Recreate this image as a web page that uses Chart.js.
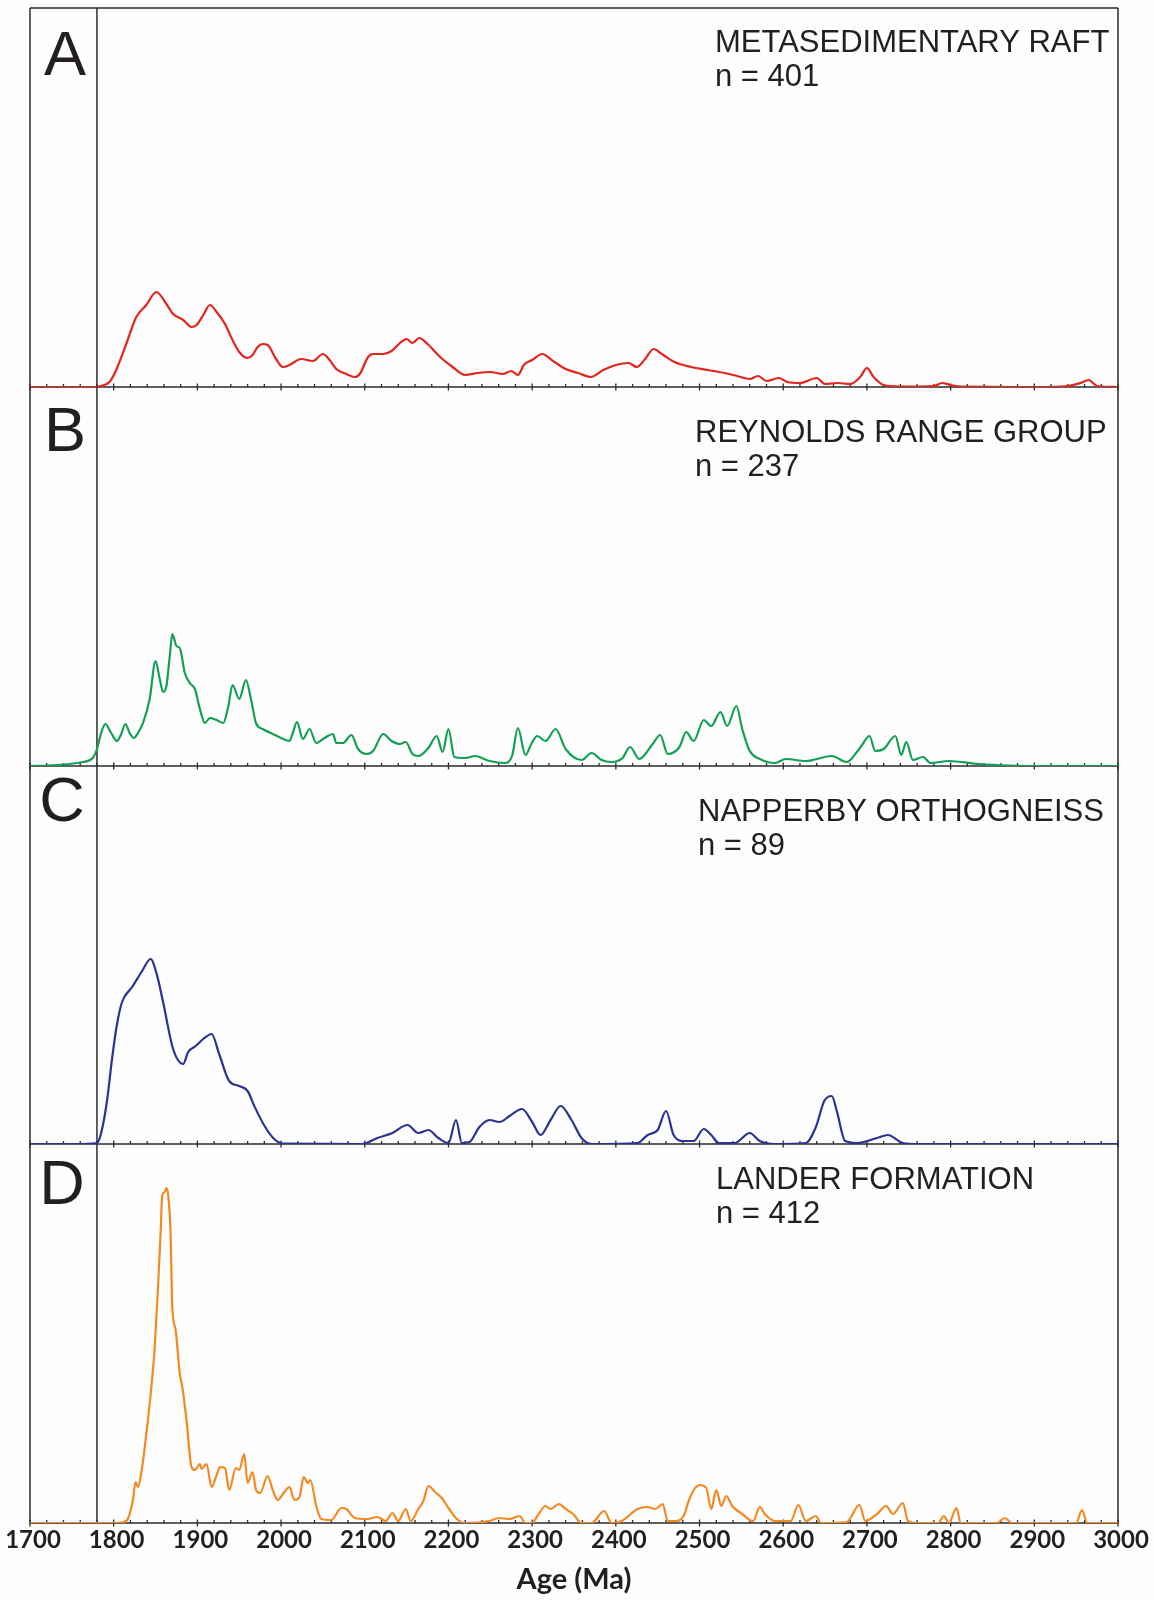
<!DOCTYPE html>
<html>
<head>
<meta charset="utf-8">
<script src="https://cdn.jsdelivr.net/npm/chart.js@4.4.0/dist/chart.umd.min.js"></script>
<style>
  html, body { margin: 0; padding: 0; background: #fdfdfd; }
  #wrap { position: relative; width: 1154px; height: 1600px; }
  #wrap canvas { position: absolute; left: 0; }
</style>
</head>
<body>
<div id="wrap">
  <canvas id="panelA"></canvas>
  <canvas id="panelB"></canvas>
  <canvas id="panelC"></canvas>
  <canvas id="panelD"></canvas>
</div>
<script>
// age (Ma) and relative probability (arbitrary units)
const agesA = [1700, 1780, 1783, 1795, 1803, 1815, 1827, 1839, 1851, 1863, 1871, 1883, 1893, 1899, 1907, 1915, 1923, 1933, 1942, 1950, 1960, 1966, 1972, 1978, 1984, 1994, 2002, 2010, 2024, 2038, 2050, 2058, 2066, 2078, 2088, 2094, 2104, 2110, 2122, 2132, 2142, 2150, 2157, 2165, 2175, 2190, 2205, 2220, 2235, 2250, 2265, 2275, 2283, 2290, 2300, 2312, 2325, 2340, 2355, 2370, 2385, 2400, 2415, 2425, 2435, 2445, 2455, 2470, 2490, 2510, 2530, 2545, 2560, 2570, 2580, 2595, 2605, 2620, 2640, 2650, 2665, 2680, 2692, 2700, 2708, 2720, 2740, 2780, 2790, 2800, 2815, 2900, 2940, 2955, 2965, 2975, 3000];
const probA = [0, 0, 0.7, 5, 17, 43, 70, 82, 95, 83, 73, 67, 60, 62, 72, 82, 75, 63, 47, 35, 29, 32, 40, 43, 42, 28, 20, 22, 28, 26, 33, 27, 18, 13, 10, 13, 30, 33, 33, 36, 44, 48, 44, 49, 43, 30, 20, 12, 14, 15, 13, 16, 12, 22, 27, 33, 26, 18, 14, 10, 17, 22, 24, 20, 28, 38, 33, 25, 20, 17, 14, 11, 8, 11, 6, 9, 5, 4, 9, 3, 4, 3, 10, 19, 10, 2, 0.5, 1, 4, 2, 0.3, 0, 1, 4, 7, 1, 0];

const agesB = [1700, 1720, 1743, 1763, 1775, 1780, 1785, 1790, 1797, 1804, 1809, 1814, 1819, 1824, 1829, 1835, 1843, 1850, 1855, 1859, 1863, 1867, 1870, 1875, 1879, 1885, 1891, 1897, 1903, 1909, 1915, 1923, 1931, 1937, 1942, 1950, 1958, 1964, 1970, 1978, 1990, 2000, 2010, 2014, 2019, 2026, 2034, 2042, 2052, 2062, 2066, 2074, 2084, 2092, 2102, 2110, 2122, 2132, 2142, 2149, 2157, 2164, 2176, 2186, 2193, 2200, 2207, 2220, 2232, 2249, 2267, 2276, 2283, 2292, 2299, 2306, 2316, 2328, 2340, 2359, 2371, 2383, 2395, 2408, 2417, 2428, 2444, 2453, 2462, 2476, 2484, 2493, 2505, 2514, 2525, 2533, 2544, 2551, 2560, 2572, 2590, 2603, 2627, 2658, 2676, 2688, 2695, 2703, 2710, 2720, 2734, 2741, 2747, 2755, 2767, 2776, 2798, 2834, 2871, 2920, 3000];
const probB = [0, 0.3, 1.7, 4, 8, 17, 33, 42, 33, 25, 32, 42, 33, 28, 33, 43, 67, 105, 87, 74, 80, 110, 132, 120, 118, 93, 83, 77, 57, 43, 48, 46, 43, 60, 81, 67, 86, 67, 43, 37, 32, 28, 25, 33, 44, 27, 37, 23, 28, 32, 23, 23, 31, 17, 12, 15, 32, 25, 22, 24, 12, 10, 18, 30, 14, 37, 9, 8, 10, 5, 3, 10, 38, 11, 22, 30, 25, 37, 17, 6, 13, 6, 4, 8, 19, 7, 22, 31, 12, 19, 34, 25, 46, 40, 54, 40, 60, 37, 15, 7, 3, 7, 5, 10, 4, 14, 22, 30, 15, 17, 30, 11, 24, 6, 9, 3, 5, 2, 0.5, 0, 0];

const agesC = [1700, 1760, 1775, 1780, 1785, 1792, 1798, 1804, 1810, 1822, 1834, 1844, 1852, 1859, 1871, 1883, 1889, 1898, 1907, 1917, 1926, 1938, 1950, 1960, 1968, 1981, 1993, 2005, 2097, 2115, 2133, 2151, 2164, 2176, 2188, 2200, 2209, 2216, 2225, 2237, 2249, 2261, 2273, 2288, 2300, 2310, 2322, 2334, 2347, 2359, 2371, 2426, 2438, 2450, 2460, 2469, 2481, 2493, 2505, 2514, 2523, 2542, 2560, 2572, 2590, 2627, 2639, 2649, 2658, 2664, 2674, 2688, 2712, 2725, 2743, 2761, 3000];
const probC = [0, 0, 0.5, 1, 11, 43, 85, 120, 142, 157, 173, 185, 168, 142, 95, 80, 92, 98, 105, 110, 90, 63, 58, 53, 38, 17, 4, 0.3, 0, 6, 11, 19, 11, 14, 6, 1, 24, 1, 2, 17, 24, 22, 28, 35, 22, 9, 24, 38, 24, 6, 0, 1, 9, 14, 33, 9, 3, 3, 15, 9, 1, 1, 11, 3, 0, 1, 17, 43, 48, 33, 3, 1, 6, 9, 1, 0, 0];

const agesD = [1700, 1780, 1805, 1815, 1823, 1826, 1829, 1834, 1839, 1845, 1849, 1853, 1856, 1858, 1861, 1863, 1865, 1868, 1870, 1874, 1879, 1882, 1887, 1893, 1897, 1903, 1905, 1911, 1917, 1923, 1927, 1933, 1938, 1946, 1950, 1956, 1960, 1966, 1970, 1975, 1984, 1990, 1996, 2004, 2010, 2016, 2022, 2027, 2032, 2035, 2042, 2048, 2060, 2072, 2078, 2088, 2103, 2115, 2125, 2133, 2140, 2149, 2155, 2164, 2170, 2176, 2184, 2192, 2200, 2210, 2219, 2249, 2261, 2273, 2285, 2292, 2300, 2307, 2316, 2322, 2332, 2340, 2349, 2359, 2371, 2386, 2395, 2407, 2426, 2438, 2447, 2456, 2462, 2471, 2481, 2487, 2493, 2501, 2508, 2514, 2520, 2526, 2532, 2539, 2551, 2564, 2572, 2578, 2590, 2609, 2618, 2627, 2639, 2645, 2676, 2691, 2698, 2712, 2723, 2731, 2743, 2749, 2762, 2785, 2792, 2798, 2807, 2812, 2855, 2865, 2873, 2950, 2957, 2963, 3000];
const probD = [0, 0, 0, 2, 23, 41, 36, 56, 89, 136, 176, 236, 289, 328, 331, 335, 329, 289, 216, 193, 149, 136, 103, 56, 53, 59, 54, 59, 36, 48, 56, 55, 33, 55, 53, 69, 40, 51, 33, 30, 47, 33, 23, 31, 36, 23, 26, 46, 40, 43, 17, 4, 3, 15, 14, 5, 4, 6, 2, 10, 2, 14, 2, 14, 22, 37, 31, 25, 15, 4, 0, 2, 5, 4, 7, 0, 0, 8, 17, 14, 19, 14, 9, 0, 0, 12, 0, 2, 14, 16, 14, 19, 2, 2, 7, 22, 33, 38, 35, 14, 33, 17, 27, 17, 9, 2, 16, 9, 2, 2, 18, 2, 7, 0, 1, 18, 2, 9, 17, 9, 20, 2, 0, 0, 7, 0, 15, 0, 0, 5, 0, 0, 13, 0, 0];

const panelLetters = ['A', 'B', 'C', 'D'];
const panelNames = ['METASEDIMENTARY RAFT', 'REYNOLDS RANGE GROUP', 'NAPPERBY ORTHOGNEISS', 'LANDER FORMATION'];
const panelCounts = ['n = 401', 'n = 237', 'n = 89', 'n = 412'];
const xTickValues = [1700, 1800, 1900, 2000, 2100, 2200, 2300, 2400, 2500, 2600, 2700, 2800, 2900, 3000];
const markerAge = 1780;

// page layout (px)
const PLOT_LEFT = 30, PLOT_RIGHT = 1118, PAGE_H = 1600, PAD = 8, AXIS_H = 77;
const panelTops = [8, 387, 766, 1144];
const panelBottoms = [387, 766, 1144, 1523];
const lineColors = ['#e2261d', '#13a055', '#2b3390', '#f28a24'];
const letterPos = [[65, 75], [65, 451], [62, 821], [62, 1204]];
const namePos = [[715, 52], [695, 442], [698, 821], [716, 1189]];
const INK = '#231f20';

const frameLines = {
  id: 'frameLines',
  beforeDatasetsDraw(chart, args, opts) {
    const {ctx, chartArea: a, scales: {x}} = chart;
    ctx.save();
    ctx.strokeStyle = '#2c2c2c';
    ctx.lineWidth = 1.5;
    ctx.beginPath();
    ctx.moveTo(a.left, a.top); ctx.lineTo(a.left, a.bottom);
    ctx.moveTo(a.right, a.top); ctx.lineTo(a.right, a.bottom);
    const mx = x.getPixelForValue(markerAge);
    ctx.moveTo(mx, a.top); ctx.lineTo(mx, a.bottom);
    ctx.moveTo(a.left, a.bottom); ctx.lineTo(a.right, a.bottom);
    if (opts.top) { ctx.moveTo(a.left, a.top); ctx.lineTo(a.right, a.top); }
    ctx.stroke();
    // major ticks every 100 Ma cross the axis, minor every 20 Ma sit above it
    ctx.lineWidth = 1.3;
    ctx.beginPath();
    for (let v = 1700; v <= 3000; v += 20) {
      const px = x.getPixelForValue(v);
      if (v % 100 === 0) { ctx.moveTo(px, a.bottom - 3.5); ctx.lineTo(px, a.bottom + 3.5); }
      else { ctx.moveTo(px, a.bottom - 3); ctx.lineTo(px, a.bottom); }
    }
    ctx.stroke();
    ctx.restore();
  }
};

const panelText = {
  id: 'panelText',
  afterDraw(chart, args, opts) {
    const ctx = chart.ctx;
    ctx.save();
    ctx.fillStyle = INK;
    ctx.textBaseline = 'alphabetic';
    ctx.font = '63px "Liberation Sans", Arial, sans-serif';
    ctx.textAlign = 'center';
    ctx.fillText(opts.letter, opts.letterX, opts.letterY - opts.offset);
    ctx.font = '31px "Liberation Sans", Arial, sans-serif';
    ctx.textAlign = 'left';
    ctx.fillText(opts.name, opts.nameX, opts.nameY - opts.offset);
    ctx.fillText(opts.count, opts.nameX, opts.nameY + 34 - opts.offset);
    ctx.restore();
  }
};

const panelData = [[agesA, probA], [agesB, probB], [agesC, probC], [agesD, probD]];
const canvasIds = ['panelA', 'panelB', 'panelC', 'panelD'];

canvasIds.forEach((id, i) => {
  const isLast = i === canvasIds.length - 1;
  const canvasTop = panelTops[i] - PAD;
  const canvasH = isLast ? PAGE_H - canvasTop : panelBottoms[i] + PAD - canvasTop;
  const canvas = document.getElementById(id);
  canvas.width = 1154;
  canvas.height = canvasH;
  canvas.style.top = canvasTop + 'px';

  const [ages, prob] = panelData[i];

  new Chart(canvas, {
    type: 'line',
    data: {
      datasets: [{
        data: ages.map((a, k) => ({x: a, y: prob[k]})),
        borderColor: lineColors[i],
        borderWidth: 2.2,
        pointRadius: 0,
        fill: false,
        cubicInterpolationMode: 'monotone'
      }]
    },
    options: {
      responsive: false,
      animation: false,
      devicePixelRatio: 1,
      layout: { padding: { left: PLOT_LEFT, right: 1154 - PLOT_RIGHT, top: PAD, bottom: isLast ? 0 : PAD } },
      plugins: {
        legend: { display: false },
        tooltip: { enabled: false },
        frameLines: { top: i === 0 },
        panelText: {
          letter: panelLetters[i], name: panelNames[i], count: panelCounts[i],
          letterX: letterPos[i][0], letterY: letterPos[i][1],
          nameX: namePos[i][0], nameY: namePos[i][1], offset: canvasTop
        }
      },
      scales: {
        x: {
          type: 'linear',
          min: 1700,
          max: 3000,
          display: isLast,
          position: 'bottom',
          afterFit(scale) {
            if (!isLast) return;
            scale.height = AXIS_H;
            scale.paddingLeft = 0;
            scale.paddingRight = 0;
          },
          afterBuildTicks(scale) { scale.ticks = xTickValues.map(v => ({value: v})); },
          grid: { display: false, drawTicks: false },
          border: { display: false },
          ticks: {
            autoSkip: false,
            maxRotation: 0,
            padding: 3,
            labelOffset: 3,
            color: INK,
            font: { family: 'Lato, "Open Sans", sans-serif', size: 24, weight: 'bold' },
            callback: v => String(v)
          },
          title: {
            display: true,
            text: 'Age (Ma)',
            color: INK,
            font: { family: 'Lato, "Open Sans", sans-serif', size: 29, weight: 'bold' },
            padding: { top: 0, bottom: 3 }
          }
        },
        y: { min: 0, max: panelBottoms[i] - panelTops[i], display: false }
      }
    },
    plugins: [frameLines, panelText]
  });
});
</script>
</body>
</html>
